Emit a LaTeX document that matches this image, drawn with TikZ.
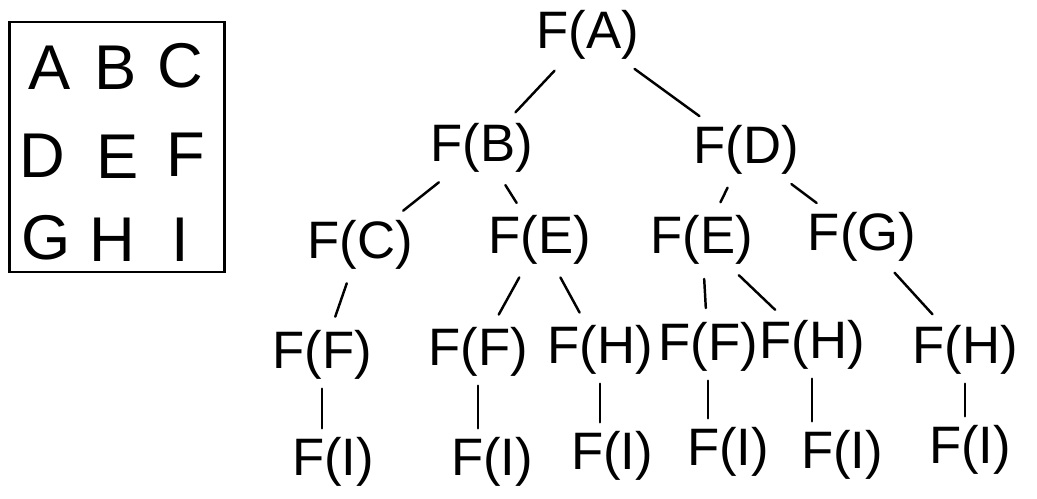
\documentclass[tikz,border=0pt]{standalone}
\usepackage{fontspec}
\setmainfont{Liberation Sans}
\usetikzlibrary{positioning}
\tikzstyle{call} = [font=\fontsize{30}{30}\selectfont, inner sep=1pt]
\tikzstyle{letter} = [font=\fontsize{36}{36}\selectfont, inner sep=0pt]
\tikzstyle{branch} = [line width=1.4pt, line cap=round, shorten <=7pt, shorten >=7pt]

\begin{document}
\begin{tikzpicture}[x=0.02cm, y=-0.02cm]
    \useasboundingbox (0,0) rectangle (1037,498);

    % Grid
    \node[draw, line width=1.4pt, minimum width=4.3cm, minimum height=5cm] (board) at (117,147) {};
    \node[letter] (la) at (50,68) {A};
    \node[letter] (lb) at (116,68) {B};
    \node[letter] (lc) at (180,66) {C};
    \node[letter] (ld) at (42,156) {D};
    \node[letter] (le) at (118,157) {E};
    \node[letter] (lf) at (186,155) {F};
    \node[letter] (lg) at (46,238) {G};
    \node[letter] (lh) at (112,240) {H};
    \node[letter] (li) at (180,240) {I};

    % Level 0 and 1
    \node[call] (fa) at (588,35) {F(A)};
    \node[call] (fb) at (482,148) {F(B)};
    \node[call] (fd) at (746,150) {F(D)};

    % Level 2
    \node[call] (fc) at (360,245) {F(C)};
    \node[call] (feleft) at (540,240) {F(E)};
    \node[call] (feright) at (702,240) {F(E)};
    \node[call] (fg) at (862,237) {F(G)};

    % Level 3
    \node[call] (ffa) at (322,355) {F(F)};
    \node[call] (ffb) at (478,352) {F(F)};
    \node[call] (fha) at (600,350) {F(H)};
    \node[call] (ffc) at (708,347) {F(F)};
    \node[call] (fhb) at (812,345) {F(H)};
    \node[call] (fhc) at (965,350) {F(H)};

    % Level 4
    \node[call] (fia) at (333,462) {F(I)};
    \node[call] (fib) at (492,462) {F(I)};
    \node[call] (fic) at (612,456) {F(I)};
    \node[call] (fid) at (728,452) {F(I)};
    \node[call] (fie) at (842,455) {F(I)};
    \node[call] (fif) at (970,450) {F(I)};

    % Branches
    \draw[branch] (fa) -- (fb);
    \draw[branch] (fa) -- (fd);
    \draw[branch] (fb) -- (fc);
    \draw[branch] (fb) -- (feleft);
    \draw[branch] (fd) -- (feright);
    \draw[branch] (fd) -- (fg);
    \draw[branch] (fc) -- (ffa);
    \draw[branch] (feleft) -- (ffb);
    \draw[branch] (feleft) -- (fha);
    \draw[branch] (feright) -- (ffc);
    \draw[branch] (feright) -- (fhb);
    \draw[branch] (fg) -- (fhc);

    % Down to F(I)
    \draw[branch, shorten <=4pt, shorten >=4pt] (ffa.south) -- (ffa.south |- fia.north);
    \draw[branch, shorten <=4pt, shorten >=4pt] (ffb.south) -- (ffb.south |- fib.north);
    \draw[branch, shorten <=4pt, shorten >=4pt] (fha.south) -- (fha.south |- fic.north);
    \draw[branch, shorten <=4pt, shorten >=4pt] (ffc.south) -- (ffc.south |- fid.north);
    \draw[branch, shorten <=4pt, shorten >=4pt] (fhb.south) -- (fhb.south |- fie.north);
    \draw[branch, shorten <=4pt, shorten >=4pt] (fhc.south) -- (fhc.south |- fif.north);
\end{tikzpicture}
\end{document}
